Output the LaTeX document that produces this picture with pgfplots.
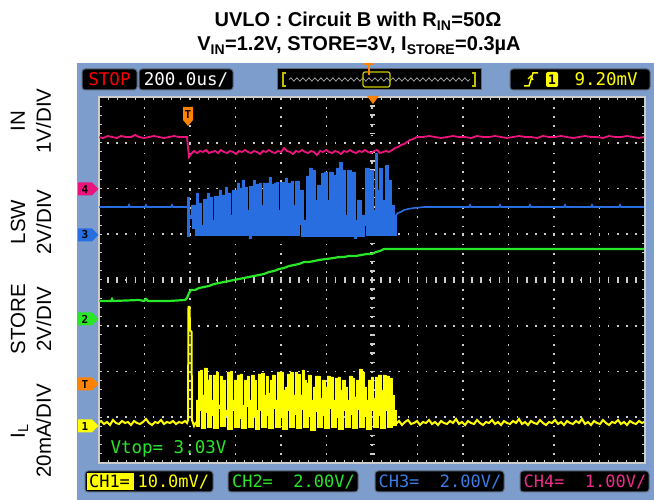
\documentclass[border=0pt]{standalone}
\usepackage{fontspec}
\setmainfont{Liberation Sans}
\newfontfamily\mono{DejaVu Sans Mono}
\usepackage{pgfplots}
\pgfplotsset{compat=1.18}
\usetikzlibrary{decorations.pathmorphing}
\definecolor{panel}{RGB}{125,157,205}
\definecolor{chA}{RGB}{255,255,0}
\definecolor{chB}{RGB}{40,230,40}
\definecolor{chC}{RGB}{40,110,225}
\definecolor{chD}{RGB}{235,20,125}
\definecolor{orng}{RGB}{255,130,0}
\definecolor{gridc}{RGB}{205,205,205}
\definecolor{boxb}{RGB}{95,105,125}
\newcommand{\chmark}[3]{%
  \fill[#1] (78,{#2+6.5}) -- (92,{#2+6.5}) -- (98.5,#2) -- (92,{#2-6.5}) -- (78,{#2-6.5}) -- cycle;
  \node[font=\mono\bfseries\fontsize{11}{11}\selectfont, text=black] at (85,#2) {#3};}
\begin{document}
\begin{tikzpicture}[x=1pt,y=1pt]
\path[use as bounding box] (0pt,0pt) rectangle (654pt,500pt);
\fill[white] (0,0) rectangle (654,500);
\fill[panel] (77,0) rectangle (654,437);
% title
\node[font=\bfseries\fontsize{20}{24}\selectfont, anchor=base] at (358,473) {UVLO : Circuit B with R\textsubscript{IN}=50Ω};
\node[font=\bfseries\fontsize{20}{24}\selectfont, anchor=base] at (359,449) {V\textsubscript{IN}=1.2V, STORE=3V, I\textsubscript{STORE}=0.3µA};
% left labels
\begin{scope}[every node/.style={rotate=90, align=center, font=\fontsize{20.5}{26}\selectfont}]
\node at (31,379) {IN\\1V/DIV};
\node at (31,278) {LSW\\2V/DIV};
\node at (31,181) {STORE\\2V/DIV};
\node at (31,69) {I\textsubscript{L}\\20mA/DIV};
\end{scope}
\begin{axis}[
  at={(99pt,37pt)}, anchor=south west,
  scale only axis, width=546pt, height=366pt,
  xmin=-6, xmax=6, ymin=-4, ymax=4,
  xtick={-6,...,6}, ytick={-4,...,4},
  minor x tick num=4, minor y tick num=4,
  xticklabels={}, yticklabels={},
  tick align=inside,
  major tick length=3pt, minor tick length=3pt,
  tick style={gridc, line width=1pt},
  axis line style={gridc, line width=1.4pt},
  axis background/.style={fill=black},
  grid=major,
  major grid style={gridc, line width=1.7pt, dash pattern=on 1.7pt off 7.4pt, dash phase=0.85pt},
  px/.style={x filter/.expression={(x-373)/45.5}, y filter/.expression={(280-y)/45.75}},
]
\addplot[gridc, line width=5pt, dash pattern=on 1.6pt off 7.55pt, dash phase=0.8pt] coordinates {(0,-4) (0,4)};
\addplot[gridc, line width=6pt, dash pattern=on 1.6pt off 7.5pt, dash phase=0.8pt] coordinates {(-6,0) (6,0)};
% CH4 IN (pink)
\addplot[px, chD, line width=1.8pt] coordinates {
(99,137) (104,138) (109,136) (113,137) (118,138) (122,136) (127,137) (132,137) (136,135) (140,137) (145,138) (150,137) (155,136) (160,137) (165,138) (170,137) (175,136) (180,137) (185,137) (188,137) (189,148) (190,157) (192,154) (195,151) (198,153) (201,151) (204,152) (207,150) (210,153) (213,152) (216,151) (219,153) (222,150) (225,152) (228,153) (231,151) (234,152) (237,154) (240,151) (243,152) (246,150) (249,152) (252,153) (255,151) (258,152) (261,154) (264,151) (267,152) (270,150) (273,152) (276,153) (279,151) (282,152) (285,148) (288,151) (291,152) (294,154) (297,151) (300,152) (303,150) (306,152) (309,153) (312,151) (315,152) (318,155) (321,151) (324,152) (327,150) (330,152) (333,153) (336,151) (339,152) (342,154) (345,151) (348,152) (351,150) (354,152) (357,153) (360,151) (363,152) (366,150) (369,152) (372,153) (375,151) (378,150) (381,153) (384,152) (387,151) (390,152) (393,150) (396,148) (399,147) (402,145) (405,144) (408,142) (411,140) (414,139) (418,137) (424,137) (430,136) (436,137) (442,138) (448,137) (454,136) (460,137) (466,137) (472,138) (478,136) (484,137) (490,137) (496,136) (502,137) (508,138) (514,137) (520,136) (526,137) (532,137) (538,138) (544,136) (550,137) (556,137) (562,136) (568,137) (574,138) (580,137) (586,136) (592,137) (598,137) (604,138) (610,136) (616,137) (622,137) (628,136) (634,137) (640,138) (645,137)};
% CH3 LSW (blue)
\addplot[px, chC, line width=1.6pt] coordinates {
(99,207) (129,207) (130,205) (131,207) (146,207) (147,205) (148,207) (172,207) (173,205) (174,207) (188,207)};
\addplot[px, chC, fill=chC, line width=0.9pt] coordinates {
(188,236) (188,197) (190,197) (190,215) (192,215) (192,205) (197,205) (197,193) (199,193) (199,203) (202,203) (202,225) (204,225) (204,199) (208,199) (208,193) (210,193) (210,197) (213,197) (213,220) (215,220) (215,196) (220,196) (220,190) (222,190) (222,195) (226,195) (226,187) (228,187) (228,193) (231,193) (231,215) (233,215) (233,190) (238,190) (238,183) (240,183) (240,188) (243,188) (243,180) (245,180) (245,187) (248,187) (248,210) (250,210) (250,186) (254,186) (254,180) (256,180) (256,184) (260,184) (260,183) (262,183) (262,205) (264,205) (264,183) (270,183) (270,177) (272,177) (272,184) (275,184) (275,183) (277,183) (277,182) (279,182) (279,210) (281,210) (281,182) (286,182) (286,178) (288,178) (288,183) (292,183) (292,181) (294,181) (294,205) (296,205) (296,181) (300,181) (300,190) (304,190) (304,220) (307,220) (307,176) (310,176) (310,168) (313,168) (313,170) (316,170) (316,200) (318,200) (318,185) (322,185) (322,173) (325,173) (325,172) (328,172) (328,200) (330,200) (330,172) (334,172) (334,175) (337,175) (337,168) (340,168) (340,162) (343,162) (343,170) (346,170) (346,215) (348,215) (348,170) (352,170) (352,172) (356,172) (356,220) (358,220) (358,200) (362,200) (362,215) (366,215) (366,168) (370,168) (370,170) (374,170) (374,210) (376,210) (376,153) (378,153) (378,190) (380,190) (380,168) (383,168) (383,200) (386,200) (386,165) (389,165) (389,180) (392,180) (392,205) (395,205) (395,215) (397,215)
(397,235) (367,235) (367,225) (365,225) (365,236) (357,236) (357,238) (355,238) (355,236) (302,236) (302,224) (300,224) (300,235) (252,235) (252,238) (250,238) (250,235) (196,235) (196,228) (193,228) (193,218) (190,218) (190,236) (188,236)};
\addplot[px, chC, line width=1.6pt] coordinates {
(397,215) (399,213) (402,212) (405,210) (409,209) (415,208) (425,207) (470,207) (471,205) (472,207) (500,207) (501,205) (502,207) (530,207) (531,205) (532,207) (565,207) (566,205) (567,207) (592,207) (593,205) (594,207) (620,207) (621,205) (622,207) (645,207)};
% CH2 STORE (green)
\addplot[px, chB, line width=2.2pt] coordinates {
(99,301) (112,301) (113,299) (114,301) (140,300) (145,301) (147,299) (149,301) (170,301) (186,300) (188,298) (190,293) (192,290) (196,290) (200,288) (205,287) (210,286) (215,284) (220,283) (225,282) (230,281) (235,280) (240,279) (245,278) (250,277) (255,276) (260,275) (265,274) (270,272) (275,271) (280,269) (285,268) (290,266) (295,265) (300,264) (305,262) (310,262) (315,261) (320,260) (327,259) (335,258) (340,257) (345,257) (350,256) (357,256) (362,255) (368,254) (373,254) (377,252) (381,251) (385,249) (397,249) (645,249)};
% CH1 IL (yellow)
\addplot[px, chA, line width=2pt] coordinates {
(99,423) (102,421) (105,424) (108,422) (111,425) (114,420) (117,423) (120,424) (123,421) (126,423) (129,422) (132,425) (135,421) (138,423) (141,424) (144,422) (147,419) (150,423) (153,425) (156,422) (159,423) (162,420) (165,424) (168,422) (171,423) (174,421) (177,424) (180,422) (183,423) (186,421) (188,423) (189,420) (189.5,307) (190.5,307) (191,330) (192.5,332) (193,420) (195,426) (197,422)};
\addplot[px, chA, fill=chA, line width=0.8pt] coordinates {
(197,423) (197,400) (199,400) (199,372) (201,372) (201,370) (203,370) (203,395) (205,395) (205,368) (208,368) (208,380) (210,380) (210,375) (212,375) (212,400) (214,400) (214,375) (217,375) (217,372) (219,372) (219,405) (221,405) (221,376) (223,376) (223,380) (226,380) (226,410) (228,410) (228,372) (231,372) (231,371) (233,371) (233,400) (235,400) (235,380) (238,380) (238,375) (241,375) (241,374) (243,374) (243,405) (245,405) (245,380) (248,380) (248,376) (250,376) (250,400) (252,400) (252,375) (255,375) (255,380) (257,380) (257,410) (259,410) (259,374) (262,374) (262,373) (265,373) (265,395) (267,395) (267,376) (269,376) (269,393) (271,393) (271,380) (273,380) (273,375) (276,375) (276,400) (278,400) (278,372) (284,372) (284,390) (286,390) (286,387) (288,387) (288,374) (291,374) (291,372) (294,372) (294,395) (296,395) (296,372) (298,372) (298,374) (301,374) (301,395) (303,395) (303,370) (305,370) (305,380) (307,380) (307,383) (309,383) (309,375) (312,375) (312,400) (314,400) (314,387) (316,387) (316,376) (321,376) (321,398) (323,398) (323,380) (326,380) (326,387) (328,387) (328,376) (331,376) (331,377) (334,377) (334,400) (336,400) (336,378) (339,378) (339,377) (341,377) (341,390) (343,390) (343,380) (346,380) (346,387) (348,387) (348,400) (350,400) (350,376) (353,376) (353,378) (355,378) (355,397) (357,397) (357,380) (360,380) (360,369) (363,369) (363,372) (365,372) (365,387) (367,387) (367,400) (369,400) (369,380) (372,380) (372,377) (374,377) (374,398) (376,398) (376,377) (379,377) (379,375) (382,375) (382,390) (384,390) (384,375) (387,375) (387,376) (390,376) (390,378) (393,378) (393,395) (395,395) (395,410) (397,410) (397,425)
(393,425) (393,427) (388,427) (388,410) (386,410) (386,428) (381,428) (381,415) (379,415) (379,427) (374,427) (374,410) (372,410) (372,429) (367,429) (367,416) (365,416) (365,427) (360,427) (360,409) (358,409) (358,428) (353,428) (353,414) (351,414) (351,427) (346,427) (346,410) (344,410) (344,429) (339,429) (339,417) (337,417) (337,427) (332,427) (332,408) (330,408) (330,428) (325,428) (325,415) (323,415) (323,427) (318,427) (318,411) (316,411) (316,430) (311,430) (311,416) (309,416) (309,427) (304,427) (304,409) (302,409) (302,428) (297,428) (297,414) (295,414) (295,427) (290,427) (290,410) (288,410) (288,429) (283,429) (283,417) (281,417) (281,427) (276,427) (276,408) (274,408) (274,428) (269,428) (269,415) (267,415) (267,427) (262,427) (262,410) (260,410) (260,429) (256,429) (256,416) (254,416) (254,427) (249,427) (249,406) (247,406) (247,428) (242,428) (242,418) (240,418) (240,427) (235,427) (235,410) (233,410) (233,429) (228,429) (228,415) (226,415) (226,426) (221,426) (221,408) (219,408) (219,428) (214,428) (214,415) (212,415) (212,427) (208,427) (208,412) (206,412) (206,428) (202,428) (202,410) (200,410) (200,426) (197,426)};
\addplot[px, chA, line width=2pt] coordinates {
(397,424) (400,421) (403,425) (406,422) (409,420) (412,424) (415,423) (418,421) (421,425) (424,422) (427,423) (430,420) (433,424) (436,422) (439,425) (442,421) (445,423) (448,424) (451,421) (454,423) (457,419) (460,424) (463,422) (466,425) (469,421) (472,423) (475,424) (478,420) (481,423) (484,425) (487,422) (490,423) (493,420) (496,424) (499,422) (502,425) (505,421) (508,423) (511,424) (514,421) (517,423) (520,419) (523,424) (526,422) (529,425) (532,421) (535,423) (538,424) (541,420) (544,423) (547,425) (550,422) (553,423) (556,420) (559,424) (562,422) (565,425) (568,421) (571,423) (574,424) (577,421) (580,423) (583,419) (586,424) (589,422) (592,425) (595,421) (598,423) (601,424) (604,420) (607,423) (610,425) (613,422) (616,423) (619,420) (622,424) (625,422) (628,425) (631,421) (634,423) (637,424) (640,421) (643,423) (645,422)};
\end{axis}
% Vtop text
\node[anchor=west, text=chB, font=\mono\fontsize{17.5}{17.5}\selectfont] at (107,51) {Vtop= 3.03V};
% trigger markers in plot
\fill[orng] (183,393) -- (193,393) -- (193,380) -- (188,374) -- (183,380) -- cycle;
\node[font=\mono\bfseries\fontsize{11}{11}\selectfont, text=black] at (188,386) {T};
\fill[orng] (367,404) -- (379,404) -- (373,396) -- cycle;
% left channel markers
\chmark{chD}{311}{4}
\chmark{chC}{265}{3}
\chmark{chB}{181}{2}
\chmark{orng}{116}{T}
\chmark{chA}{74}{1}
% top bar
\begin{scope}[every node/.style={font=\mono\fontsize{17.5}{17.5}\selectfont}]
\draw[fill=black, draw=boxb, rounded corners=3pt, line width=1pt] (82,410) rectangle (137,431);
\node[text=red] at (109.5,420.5) {STOP};
\draw[fill=black, draw=boxb, rounded corners=3pt, line width=1pt] (139,410) rectangle (233,431);
\node[text=white] at (186,420.5) {200.0us/};
\draw[fill=black, draw=boxb, line width=1pt] (277,410) rectangle (481,431);
\draw[chA!75!black, line width=1.2pt] (286,414) -- (283,414) -- (283,427) -- (286,427);
\draw[chA!75!black, line width=1.2pt] (472,414) -- (475,414) -- (475,427) -- (472,427);
\draw[white!65!black, line width=0.8pt, decorate, decoration={snake, amplitude=1.6pt, segment length=6pt}] (289,420.5) -- (470,420.5);
\draw[chA!80!black, rounded corners=2pt, line width=1.2pt] (363,413) rectangle (390,428);
\draw[orng, line width=1.6pt] (369,437) -- (369,425);
\draw[orng, line width=1.6pt] (364,436) -- (374,436);
\draw[fill=black, draw=boxb, rounded corners=3pt, line width=1pt] (510,410) rectangle (650,431);
\draw[chA, line width=1.5pt] (524,414) -- (529,414) -- (533,427) -- (538,427);
\draw[chA, line width=1.2pt] (528,421) -- (531,424) -- (533,420);
\fill[chA, rounded corners=2pt] (546,413) rectangle (558,428);
\node[text=black, font=\mono\bfseries\fontsize{13}{13}\selectfont] at (552,420.5) {1};
\node[anchor=west, text=chA] at (571,420.5) {9.20mV};
\end{scope}
% bottom bar
\begin{scope}[every node/.style={anchor=west, font=\mono\fontsize{17}{17}\selectfont}]
\draw[fill=black, draw=boxb, rounded corners=3pt, line width=1pt] (85,8) rectangle (213,29);
\fill[chA] (87,10) rectangle (134,27);
\node[text=black] at (85.5,18.5) {CH1=};
\node[text=chA] at (134,18.5) {10.0mV/};
\draw[fill=black, draw=boxb, rounded corners=3pt, line width=1pt] (228,8) rectangle (358,29);
\node[text=chB] at (228.5,18.5) {CH2=~ 2.00V/};
\draw[fill=black, draw=boxb, rounded corners=3pt, line width=1pt] (375,8) rectangle (504,29);
\node[text=chC!90!white] at (375,18.5) {CH3=~ 2.00V/};
\draw[fill=black, draw=boxb, rounded corners=3pt, line width=1pt] (520,8) rectangle (649,29);
\node[text=chD!90!white] at (520,18.5) {CH4=~ 1.00V/};
\end{scope}
\end{tikzpicture}
\end{document}
